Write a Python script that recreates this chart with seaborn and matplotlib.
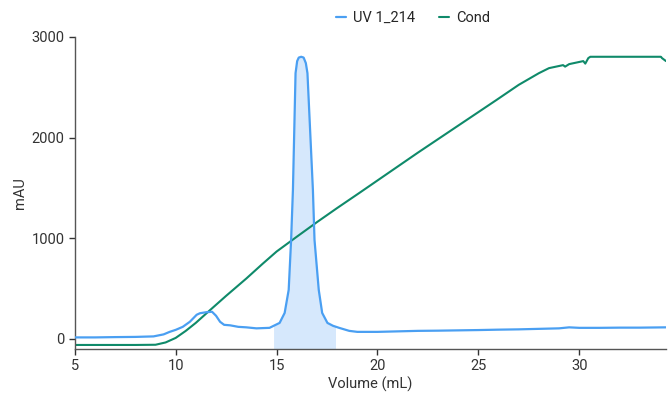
import matplotlib
matplotlib.use("Agg")
import matplotlib.pyplot as plt
import seaborn as sns
import pandas as pd
import numpy as np

# UV 1_214 trace (volume mL, mAU)
uv_x = [5.0, 6.0, 7.0, 8.0, 8.9, 9.4, 9.7, 10.0, 10.35, 10.7, 11.04, 11.2, 11.5, 11.8, 12.0,
        12.2, 12.4, 12.7, 13.1, 13.5, 14.0, 14.65, 15.15, 15.4, 15.6, 15.72, 15.81, 15.94,
        16.02, 16.1, 16.22, 16.34, 16.45, 16.53, 16.8, 16.88, 17.09, 17.26, 17.52, 17.8, 18.1,
        18.6, 19.0, 20.0, 21.0, 22.0, 23.0, 24.0, 25.0, 26.0, 27.0, 28.0, 29.0, 29.5,
        30.0, 31.0, 32.0, 33.0, 34.3]
uv_y = [15, 15, 18, 20, 25, 45, 70, 90, 120, 170, 240, 255, 265, 270, 230,
        170, 140, 135, 120, 115, 105, 110, 159, 258, 487, 983, 1480, 2640,
        2760, 2795, 2803, 2795, 2740, 2640, 1480, 983, 487, 258, 159, 130, 110,
        80, 70, 70, 75, 80, 82, 85, 88, 92, 95, 100, 105, 115,
        110, 110, 112, 112, 115]

# Cond trace (volume mL, plotted on same axis)
cond_x = [5.0, 8.0, 9.0, 9.5, 10.0, 10.5, 11.0, 11.6, 12.5, 13.5, 14.3, 15.0, 16.0, 17.0, 18.0,
          19.1, 22.0, 25.9, 27.0, 28.0, 28.5, 29.2, 29.3, 29.5, 30.2, 30.3, 30.45, 30.55,
          34.05, 34.1, 34.3]
cond_y = [-60, -60, -58, -35, 10, 80, 160, 268, 428, 600, 745, 868, 1015, 1160, 1300,
          1450, 1850, 2374, 2524, 2640, 2690, 2720, 2705, 2730, 2760, 2735, 2790, 2803,
          2803, 2790, 2760]

fill_start, fill_end = 14.85, 17.92

uv_color = "#4a9ff2"
cond_color = "#0f8a6a"
fill_color = "#d6e8fc"

sns.set_theme(style="white")
plt.rcParams["font.family"] = ["Roboto", "DejaVu Sans"]

fig = plt.figure(figsize=(6.68, 3.93), dpi=100)
ax = fig.add_axes([0.112, 0.112, 0.885, 0.794])

uv = pd.DataFrame({"Volume": uv_x, "mAU": uv_y})
cond = pd.DataFrame({"Volume": cond_x, "mAU": cond_y})

mask = (uv["Volume"] >= fill_start) & (uv["Volume"] <= fill_end)
fx = np.concatenate([[fill_start], uv["Volume"][mask].values, [fill_end]])
fy = np.interp(fx, uv["Volume"], uv["mAU"])
ax.fill_between(fx, -100, fy, color=fill_color, lw=0, zorder=1)

sns.lineplot(data=uv, x="Volume", y="mAU", ax=ax, color=uv_color, lw=1.6, label="UV 1_214", zorder=3)
sns.lineplot(data=cond, x="Volume", y="mAU", ax=ax, color=cond_color, lw=1.5, label="Cond", zorder=2)

ax.set_xlim(5, 34.3)
ax.set_ylim(-100, 3000)
ax.set_xticks([5, 10, 15, 20, 25, 30])
ax.set_yticks([0, 1000, 2000, 3000])
ax.set_xlabel("Volume (mL)", fontsize=10.5, color="#333333", labelpad=2)
ax.set_ylabel("mAU", fontsize=10.5, color="#333333", labelpad=3)
ax.tick_params(axis="both", labelsize=10.5, colors="#333333", length=4, width=1,
               direction="out", bottom=True, left=True)
for s in ["top", "right"]:
    ax.spines[s].set_visible(False)
for s in ["left", "bottom"]:
    ax.spines[s].set_color("#555555")
    ax.spines[s].set_linewidth(1)

leg = ax.legend(loc="lower center", bbox_to_anchor=(0.572, 1.01), ncol=2, frameon=False,
                fontsize=10.5, handlelength=0.7, columnspacing=1.6, handletextpad=0.5,
                borderaxespad=0.2)

fig.savefig("out.png", dpi=100)
